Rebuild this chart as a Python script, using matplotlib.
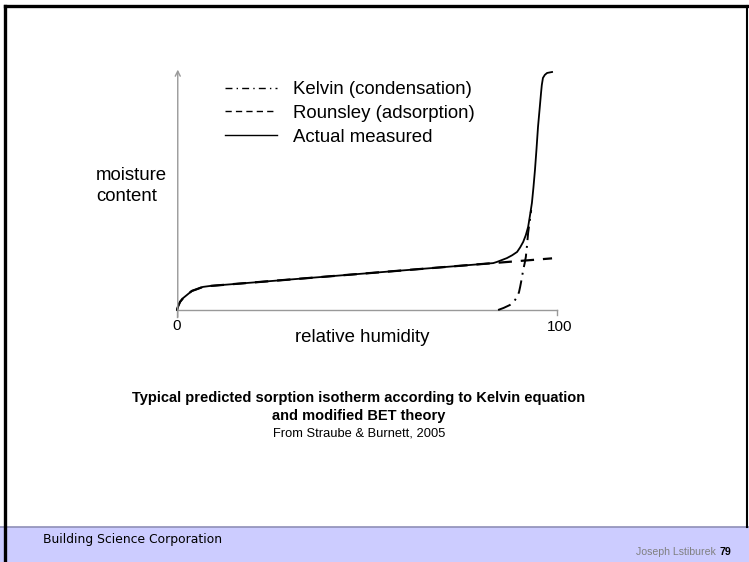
import matplotlib
matplotlib.use('Agg')
import matplotlib.pyplot as plt
from matplotlib.lines import Line2D
from matplotlib.patches import Rectangle

# Sorption isotherm curves (relative humidity %, moisture content in arbitrary units)
measured_rh = [0, 0.3, 0.8, 1.6, 2.6, 3.9, 5.3, 6.8, 8.7, 83.2, 84.2, 85.5, 86.8,
               88.2, 89.5, 90.3, 91.1, 91.8, 92.4, 92.9, 93.4, 93.8, 94.2, 94.6,
               95.0, 95.4, 95.8, 96.0, 96.3, 96.8, 97.4, 98.7]
measured_mc = [0, 1.6, 3.4, 5.0, 6.3, 8.0, 8.8, 9.7, 10.1, 19.7, 20.2, 21.0, 21.8,
               23.0, 24.4, 26.3, 28.6, 31.5, 34.9, 39.8, 45.0, 51.5, 58.8, 67.5,
               76.9, 84.0, 91.2, 94.5, 97.5, 98.8, 99.6, 100]

rounsley_rh = [0, 0.3, 0.8, 1.6, 2.6, 3.9, 5.3, 6.8, 8.7, 83.2, 98.7]
rounsley_mc = [0, 1.6, 3.4, 5.0, 6.3, 8.0, 8.8, 9.7, 10.1, 19.7, 21.7]

kelvin_rh = [84.5, 86.0, 87.6, 88.7, 89.5, 90.0, 90.3, 90.7, 91.1, 91.5, 91.8,
             92.1, 92.4, 92.8, 93.2]
kelvin_mc = [0, 0.9, 2.1, 3.6, 5.5, 7.5, 9.7, 13.0, 16.8, 19.7, 22.3,
             27.0, 32.4, 37.0, 42.0]

legend_labels = ['Kelvin (condensation)', 'Rounsley (adsorption)', 'Actual measured']

W, H = 749, 562
fig = plt.figure(figsize=(W / 100, H / 100), dpi=100)
plt.rcParams['font.family'] = ['Liberation Sans', 'DejaVu Sans']


def fx(px):
    return px / W


def fy(py):
    return 1 - py / H


# slide frame and footer band
fig.patches.append(Rectangle((0, 0), 1, fy(527), transform=fig.transFigure,
                             facecolor='#ccccff', edgecolor='none', zorder=0))
fig.lines.append(Line2D([0, 1], [fy(527), fy(527)], transform=fig.transFigure,
                        color='#8f8fb8', lw=1.2))
fig.lines.append(Line2D([fx(4.5), fx(4.5)], [0, fy(6)], transform=fig.transFigure,
                        color='black', lw=2.4))
fig.lines.append(Line2D([fx(4.5), fx(746.5)], [fy(6), fy(6)], transform=fig.transFigure,
                        color='black', lw=2.4))
fig.lines.append(Line2D([fx(746.5), fx(746.5)], [fy(527), fy(6)], transform=fig.transFigure,
                        color='black', lw=1.5))

ax = fig.add_axes([fx(177), fy(310), fx(557) - fx(177), fy(72) - fy(310)])
ax.set_xlim(0, 100)
ax.set_ylim(0, 100)
for s in ax.spines.values():
    s.set_visible(False)
ax.set_xticks([])
ax.set_yticks([])
ax.patch.set_alpha(0)

# axes drawn by hand: gray x-axis with end ticks, y-axis with open arrow
ax.plot([0, 100], [0, 0], color='#999999', lw=1, clip_on=False)
ax.plot([0, 0], [0, -3], color='#999999', lw=1, clip_on=False)
ax.plot([100, 100], [0, -2.2], color='#999999', lw=1, clip_on=False)
ax.annotate('', xy=(0.2, 101), xytext=(0.2, -3),
            arrowprops=dict(arrowstyle='->', color='#999999', lw=1,
                            mutation_scale=9, shrinkA=0, shrinkB=0),
            annotation_clip=False)

ax.plot(rounsley_rh, rounsley_mc, color='black', lw=1.6,
        dashes=(6, 4), label=legend_labels[1], clip_on=False)
ax.plot(kelvin_rh, kelvin_mc, color='black', lw=1.4,
        dashes=(7, 3, 1, 3), label=legend_labels[0], clip_on=False)
ax.plot(measured_rh, measured_mc, color='black', lw=1.3,
        label=legend_labels[2], clip_on=False, solid_joinstyle='round')

handles = [Line2D([], [], color='black', lw=1.0, dashes=(5, 3, 1, 3)),
           Line2D([], [], color='black', lw=1.0, dashes=(4.5, 3)),
           Line2D([], [], color='black', lw=1.0)]
fig.legend(handles, legend_labels, loc='upper left',
           bbox_to_anchor=(fx(225), fy(81)), bbox_transform=fig.transFigure,
           frameon=False, fontsize=13.4, handlelength=2.8, handletextpad=0.85,
           labelspacing=0.37, borderpad=0, borderaxespad=0)

fig.text(fx(96), fy(186), 'moisture\ncontent', fontsize=13.4, ha='left',
         va='center', linespacing=1.3)
fig.text(fx(177), fy(326), '0', fontsize=11, ha='center', va='center')
fig.text(fx(560), fy(327), '100', fontsize=11, ha='center', va='center')
fig.text(fx(362), fy(338), 'relative humidity', fontsize=13.4, ha='center', va='center')

fig.text(fx(359), fy(398), 'Typical predicted sorption isotherm according to Kelvin equation',
         fontsize=10.5, fontweight='bold', ha='center', va='center')
fig.text(fx(359), fy(416), 'and modified BET theory', fontsize=10.5,
         fontweight='bold', ha='center', va='center')
fig.text(fx(359), fy(433), 'From Straube & Burnett, 2005', fontsize=9.3,
         ha='center', va='center')

fig.text(fx(43), fy(540), 'Building Science Corporation', fontsize=8.9,
         family='DejaVu Sans', ha='left', va='center', color='black')
fig.text(fx(716), fy(552), 'Joseph Lstiburek', fontsize=7.6, ha='right',
         va='center', color='#808080')
fig.text(fx(720), fy(552), '79', fontsize=7.6, fontweight='bold', ha='left',
         va='center', color='black')

fig.savefig('out.png', dpi=100)
